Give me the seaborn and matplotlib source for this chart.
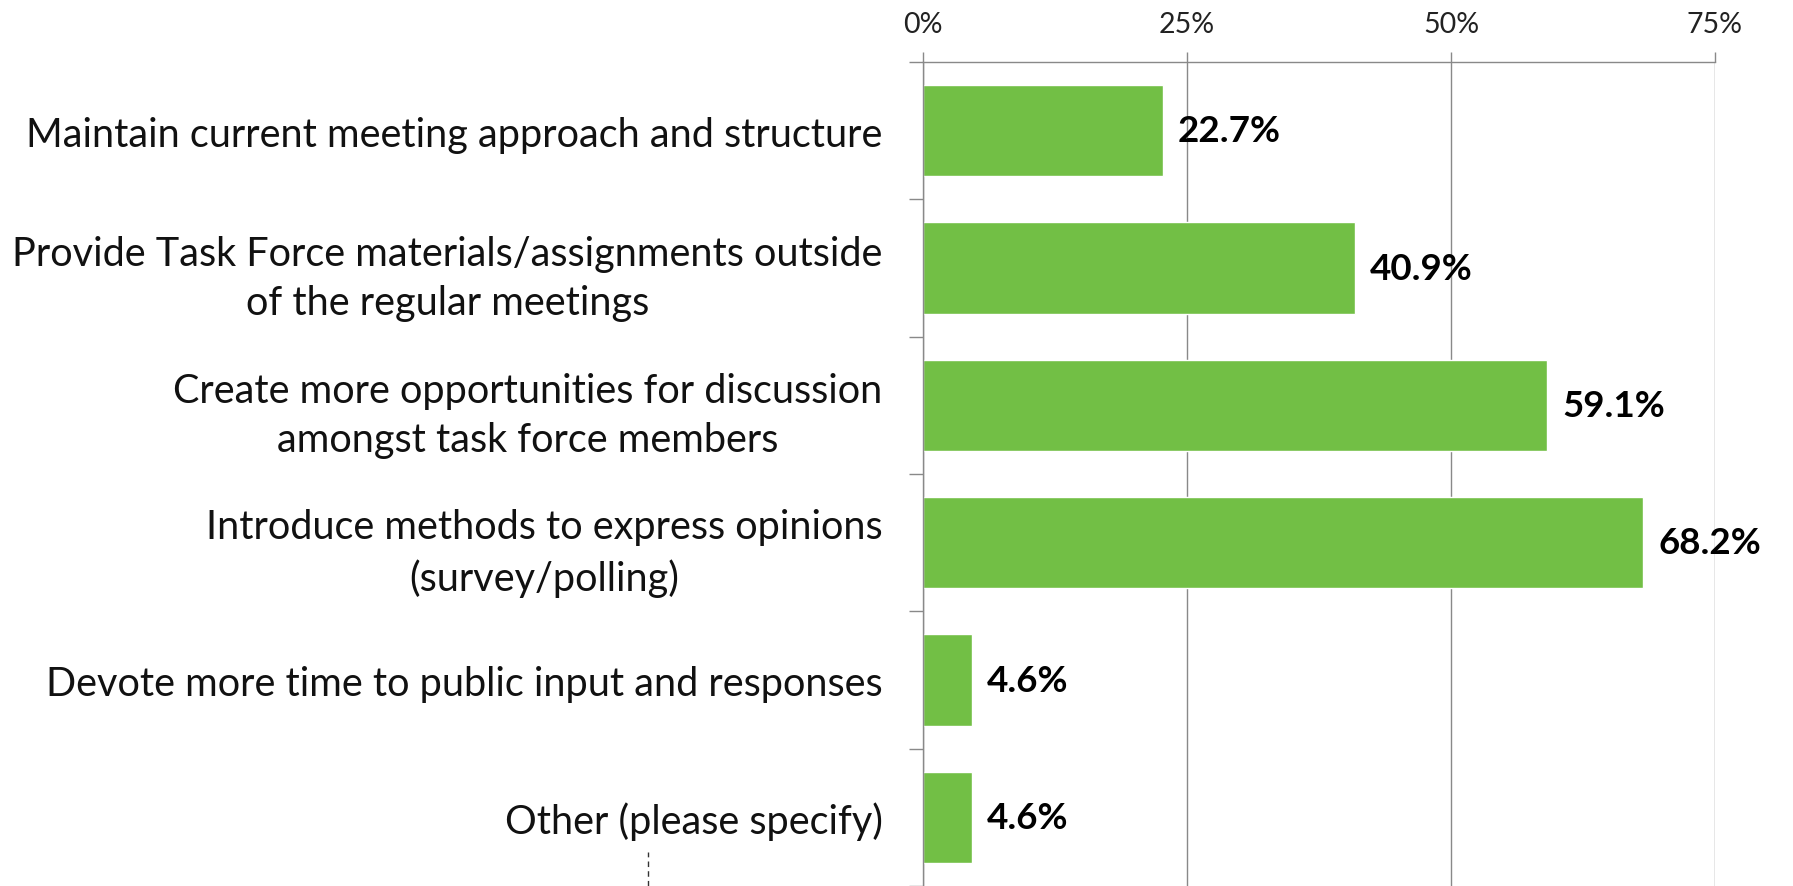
import matplotlib
matplotlib.use("Agg")
import matplotlib.pyplot as plt
from matplotlib.lines import Line2D
from matplotlib.ticker import FuncFormatter
import seaborn as sns
import numpy as np
import pandas as pd

sns.set_theme(style='white')
plt.rcParams['font.family'] = ['Lato', 'DejaVu Sans']

options = ['Maintain current meeting approach and structure',
           'Provide Task Force materials/assignments outside\nof the regular meetings',
           'Create more opportunities for discussion\namongst task force members',
           'Introduce methods to express opinions\n(survey/polling)',
           'Devote more time to public input and responses',
           'Other (please specify)']
percent = [22.7, 40.9, 59.1, 68.2, 4.6, 4.6]
value_labels = ['22.7%', '40.9%', '59.1%', '68.2%', '4.6%', '4.6%']
x_ticks = [0, 25, 50, 75]

df = pd.DataFrame({'option': options, 'percent': percent})

grey = '#898989'
fig = plt.figure(figsize=(17.93, 8.87), dpi=100)
ax = fig.add_axes([923/1793, 0.0, 792/1793, 1 - 63/887])

sns.barplot(data=df, x='percent', y='option', color='#72BF45', saturation=1,
            width=0.667, ax=ax)

ax.set_xlim(0, 75)
ax.set_ylim(5.5, -0.5)
ax.set_xlabel('')
ax.set_ylabel('')

# x axis on top
ax.xaxis.tick_top()
ax.set_xticks(x_ticks)
ax.xaxis.set_major_formatter(FuncFormatter(lambda v, p: f'{v:.0f}%'))
ax.tick_params(axis='x', which='major', direction='out', length=7.2, width=1,
               color=grey, labelsize=20.5, pad=11, labelcolor='#222222')
ax.grid(axis='x', color=grey, linewidth=1)
ax.set_axisbelow(True)

# category labels at centres, tick marks at boundaries
ax.set_yticks(np.arange(-0.5, 6, 1), minor=True)
ax.tick_params(axis='y', which='major', length=0, pad=29, labelsize=28.5,
               labelcolor='#111111')
ax.tick_params(axis='y', which='minor', left=True, direction='out', length=10,
               width=1, color=grey)
for lab in ax.get_yticklabels():
    lab.set_multialignment('center')
    lab.set_linespacing(1.42)

for side in ['right', 'bottom']:
    ax.spines[side].set_visible(False)
for side in ['top', 'left']:
    ax.spines[side].set_color(grey)
    ax.spines[side].set_linewidth(1)

ax.bar_label(ax.containers[0], labels=value_labels, padding=11,
             fontsize=26.5, fontweight='bold', color='black')

# small dashed stub left over under the labels
fig.add_artist(Line2D([648/1793, 648/1793], [0, 34/887], color='#333333',
                      linewidth=1, linestyle=(0, (4, 3))))

fig.savefig('out.png', dpi=100)
